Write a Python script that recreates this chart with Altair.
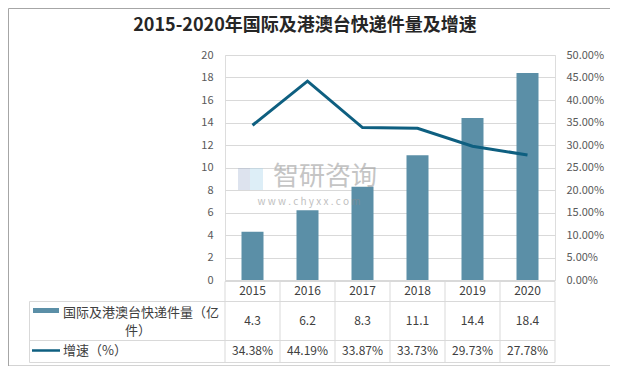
import altair as alt
import pandas as pd

# ---- data ----
years = ["2015", "2016", "2017", "2018", "2019", "2020"]
volume = [4.3, 6.2, 8.3, 11.1, 14.4, 18.4]
growth = [34.38, 44.19, 33.87, 33.73, 29.73, 27.78]
volume_labels = ["4.3", "6.2", "8.3", "11.1", "14.4", "18.4"]
growth_labels = ["34.38%", "44.19%", "33.87%", "33.73%", "29.73%", "27.78%"]
left_ticks = [0, 2, 4, 6, 8, 10, 12, 14, 16, 18, 20]
right_ticks = [0, 5, 10, 15, 20, 25, 30, 35, 40, 45, 50]

title_text = "2015-2020年国际及港澳台快递件量及增速"
series1_name_a = "国际及港澳台快递件量（亿"
series1_name_b = "件）"
series2_name = "增速（%）"

# ---- styles ----
BAR = "#5B8FA7"
LINE = "#0E5F80"
GRID = "#D9D9D9"
BORDER = "#A6A6A6"
TXT = "#404040"
AXT = "#595959"
FONT = "Noto Sans CJK SC, Noto Sans, sans-serif"
W, H = 330, 225

df = pd.DataFrame({
    "year": years,
    "volume": volume,
    "growth": [g / 100 for g in growth],
    "vlab": volume_labels,
    "glab": growth_labels,
})
one = pd.DataFrame({"k": [0]})

xenc = alt.X("year:N", sort=years,
             scale=alt.Scale(paddingInner=0.6, paddingOuter=0.3), axis=None)

base = alt.Chart(df)

bars = base.mark_bar(color=BAR).encode(
    x=xenc,
    y=alt.Y("volume:Q", scale=alt.Scale(domain=[0, 20]),
            axis=alt.Axis(values=left_ticks, grid=True, gridColor=GRID, domain=False,
                          ticks=False, labelPadding=12, labelFontSize=11,
                          labelFont=FONT, labelColor=AXT, title=None)),
)

line = base.mark_line(color=LINE, strokeWidth=3).encode(
    x=xenc,
    y=alt.Y("growth:Q", scale=alt.Scale(domain=[0, 0.5]),
            axis=alt.Axis(orient="right", format=".2%",
                          values=[t / 100 for t in right_ticks], grid=False,
                          domain=False, ticks=False, labelPadding=11,
                          labelFontSize=11, labelFont=FONT, labelColor=AXT,
                          title=None)),
)

def rule(x1, x2, y1, y2, color=GRID, w=1):
    return alt.Chart(one).mark_rule(color=color, strokeWidth=w).encode(
        x=alt.value(x1), x2=alt.value(x2), y=alt.value(y1), y2=alt.value(y2))

def label(txt, x, y, size=12, color=TXT, align="left", weight="normal", opacity=1.0):
    return alt.Chart(one).mark_text(
        text=txt, font=FONT, fontSize=size, color=color, align=align,
        baseline="middle", fontWeight=weight, opacity=opacity,
    ).encode(x=alt.value(x), y=alt.value(y))

# table lines
y_top, y_r1, y_r2, y_bot = 226.5, 246.5, 285.5, 307.5
x_leg = -195.5
table = [rule(0, W, y_top, y_top), rule(x_leg, W, y_r1, y_r1),
         rule(x_leg, W, y_r2, y_r2), rule(x_leg, W, y_bot, y_bot),
         rule(x_leg, x_leg, y_r1, y_bot)]
for i in range(7):
    xx = i * W / 6
    table.append(rule(xx, xx, y_top, y_bot))

# outer border
border = [rule(-216.5, 386, -46.5, -46.5, BORDER), rule(-216.5, 386, 311, 311, BORDER),
          rule(-216.5, -216.5, -46.5, 311, BORDER), rule(386, 386, -46.5, 311, BORDER)]

year_txt = base.mark_text(font=FONT, fontSize=12, color=TXT).encode(
    x=xenc, y=alt.value(236), text="year:N")
vol_txt = base.mark_text(font=FONT, fontSize=12, color=TXT).encode(
    x=xenc, y=alt.value(266), text="vlab:N")
gr_txt = base.mark_text(font=FONT, fontSize=12, color=TXT).encode(
    x=xenc, y=alt.value(296), text="glab:N")

swatch_bar = alt.Chart(one).mark_rect(color=BAR).encode(
    x=alt.value(-192), x2=alt.value(-166), y=alt.value(253), y2=alt.value(258))
swatch_line = rule(-193, -165, 295.5, 295.5, LINE, 2.5)

legend_txt = [label(series1_name_a, -162, 258, 13, TXT),
              label(series1_name_b, -87, 276, 13, TXT, align="center"),
              label(series2_name, -162, 296, 13, TXT)]

title = label(title_text, 80, -29, 18, "#262626", align="center", weight="bold")

# watermark
logo = [alt.Chart(one).mark_rect(color="#9FB0CF", opacity=0.35).encode(
            x=alt.value(13), x2=alt.value(25), y=alt.value(113), y2=alt.value(135)),
        alt.Chart(one).mark_rect(color="#A9D4EC", opacity=0.4).encode(
            x=alt.value(25), x2=alt.value(38), y=alt.value(113), y2=alt.value(135))]
wm1 = label("智研咨询", 100, 122, 26, "#8C8C8C", align="center", opacity=0.5)
wm2 = label("w w w . c h y x x . c o m", 84, 147, 10, "#8C8C8C", align="center", opacity=0.55)

chart = alt.layer(
    bars, line, *table, *border, year_txt, vol_txt, gr_txt,
    swatch_bar, swatch_line, *legend_txt, title, *logo, wm1, wm2,
).resolve_scale(y="independent").properties(
    width=W, height=H,
    padding={"left": 217, "top": 47, "right": 55, "bottom": 86},
    autosize=alt.AutoSizeParams(type="none"),
).configure_view(stroke=None).configure(background="white")

chart.save("out.html", embed_options={"renderer": "svg", "actions": False})
